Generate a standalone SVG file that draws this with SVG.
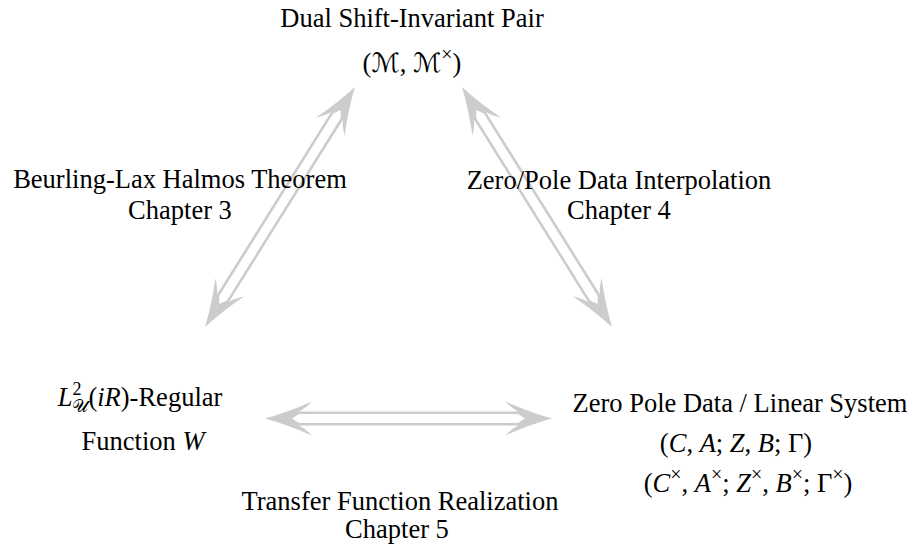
<svg xmlns="http://www.w3.org/2000/svg" xmlns:xlink="http://www.w3.org/1999/xlink" width="912" height="546" viewBox="0 0 912 546">
<style>
text{font-family:'Liberation Serif','DejaVu Serif',serif}
.t{font-size:26.5px;fill:#000}
.i{font-style:italic}
.cal{font-family:'DejaVu Serif','DejaVu Sans',serif;font-style:normal}
.s{font-size:18px}
.x{font-size:20px}
.conn line{stroke:#cccccc;stroke-width:2.6;fill:none}
.head{fill:#cccccc}
</style>
<defs>
<path id="head" class="head" d="M0,0 Q-22,-6 -47,-17 Q-40,-10 -34,-7.05 L-34,-4.45 L-27,0 L-34,4.45 L-34,7.05 Q-40,10 -47,17 Q-22,6 0,0 Z"/>
</defs>
<rect width="912" height="546" fill="#fff"/>

<g id="conn" class="conn">
  <g id="arrow-left" transform="translate(205,327) rotate(-57.995)">
    <line x1="30" y1="-5.75" x2="253" y2="-5.75"/>
    <line x1="30" y1="5.75" x2="253" y2="5.75"/>
    <use xlink:href="#head" href="#head" transform="rotate(180)"/>
    <use xlink:href="#head" href="#head" transform="translate(283,0)"/>
  </g>
  <g id="arrow-right" transform="translate(462,87) rotate(57.995)">
    <line x1="30" y1="-5.75" x2="253" y2="-5.75"/>
    <line x1="30" y1="5.75" x2="253" y2="5.75"/>
    <use xlink:href="#head" href="#head" transform="rotate(180)"/>
    <use xlink:href="#head" href="#head" transform="translate(283,0)"/>
  </g>
  <g id="arrow-bottom" transform="translate(265,418.5)">
    <line x1="30" y1="-5.75" x2="257" y2="-5.75"/>
    <line x1="30" y1="5.75" x2="257" y2="5.75"/>
    <use xlink:href="#head" href="#head" transform="rotate(180)"/>
    <use xlink:href="#head" href="#head" transform="translate(287,0)"/>
  </g>
</g>

<g id="node-top" font-family="Liberation Serif, DejaVu Serif, serif">
  <text class="t" x="412" y="27" text-anchor="middle" font-family="Liberation Serif">Dual Shift-Invariant Pair</text>
  <text class="t" x="412" y="72" text-anchor="middle">(<tspan class="cal">ℳ</tspan>, <tspan class="cal">ℳ</tspan><tspan class="x" dy="-11">×</tspan><tspan dy="11">)</tspan></text>
</g>

<g id="node-left">
  <text class="t" x="140" y="406" text-anchor="middle"><tspan class="i">L</tspan><tspan class="s" dy="-11">2</tspan><tspan class="s cal" dx="-9" dy="17">𝒰</tspan><tspan dy="-6">(</tspan><tspan class="i">iR</tspan>)-Regular</text>
  <text class="t" x="143" y="450" text-anchor="middle">Function <tspan class="i">W</tspan></text>
</g>

<g id="node-right">
  <text class="t" x="740" y="412" text-anchor="middle">Zero Pole Data / Linear System</text>
  <text class="t" x="736" y="452" text-anchor="middle">(<tspan class="i">C</tspan>, <tspan class="i">A</tspan>; <tspan class="i">Z</tspan>, <tspan class="i">B</tspan>; Γ)</text>
  <text class="t" x="748" y="492" text-anchor="middle">(<tspan class="i">C</tspan><tspan class="x" dy="-11">×</tspan><tspan dy="11">, </tspan><tspan class="i">A</tspan><tspan class="x" dy="-11">×</tspan><tspan dy="11">; </tspan><tspan class="i">Z</tspan><tspan class="x" dy="-11">×</tspan><tspan dy="11">, </tspan><tspan class="i">B</tspan><tspan class="x" dy="-11">×</tspan><tspan dy="11">; Γ</tspan><tspan class="x" dy="-11">×</tspan><tspan dy="11">)</tspan></text>
</g>

<g id="label-left">
  <text class="t" x="180" y="188" text-anchor="middle">Beurling-Lax Halmos Theorem</text>
  <text class="t" x="180" y="219" text-anchor="middle">Chapter 3</text>
</g>
<g id="label-right">
  <text class="t" x="619" y="189" text-anchor="middle">Zero/Pole Data Interpolation</text>
  <text class="t" x="619" y="219" text-anchor="middle">Chapter 4</text>
</g>
<g id="label-bottom">
  <text class="t" x="400" y="510" text-anchor="middle">Transfer Function Realization</text>
  <text class="t" x="397" y="538" text-anchor="middle">Chapter 5</text>
</g>
</svg>
